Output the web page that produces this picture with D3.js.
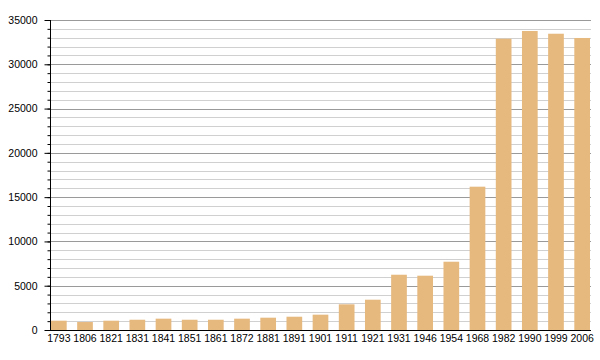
<!DOCTYPE html>
<html><head><meta charset="utf-8">
<script src="https://cdn.jsdelivr.net/npm/d3@7"></script>
<style>body{margin:0;background:#fff}svg{display:block}text{font-family:"Liberation Sans",Arial,sans-serif;font-size:10.5px;fill:#000}</style>
</head><body><svg id="c" width="600" height="360"></svg>
<script>
const years = ["1793","1806","1821","1831","1841","1851","1861","1872","1881","1891","1901","1911","1921","1931","1946","1954","1968","1982","1990","1999","2006"];
const population = [1050,900,1050,1160,1280,1160,1160,1280,1390,1500,1730,2900,3420,6240,6130,7710,16180,32890,33760,33450,32970];
const yTicks = [0,5000,10000,15000,20000,25000,30000,35000];

const svg = d3.select("#c");
const x0 = 50, x1 = 591, yTop = 20, yBot = 330;
const x = d3.scaleBand().domain(years).range([51, 590]).paddingInner(0.4).paddingOuter(0);
const y = d3.scaleLinear().domain([0, 35000]).range([yBot, yTop]);

// gridlines
const minor = d3.range(1000, 35001, 1000).filter(v => v % 5000 !== 0);
svg.append("g").selectAll("line").data(minor).join("line")
  .attr("x1", x0).attr("x2", x1).attr("y1", d => Math.round(y(d))+0.5).attr("y2", d => Math.round(y(d))+0.5)
  .attr("stroke", "#d0d0d0").attr("stroke-width", 1);
svg.append("g").selectAll("line").data(yTicks.filter(v => v > 0)).join("line")
  .attr("x1", x0).attr("x2", x1).attr("y1", d => Math.round(y(d))+0.5).attr("y2", d => Math.round(y(d))+0.5)
  .attr("stroke", "#9a9a9a").attr("stroke-width", 1);

// bars
svg.append("g").selectAll("rect").data(years).join("rect")
  .attr("x", (d) => x(d)).attr("width", x.bandwidth())
  .attr("y", (d, i) => y(population[i])).attr("height", (d, i) => yBot - y(population[i]))
  .attr("fill", "#e6b97f");

// y axis
const yAxisMinor = d3.axisLeft(y).tickValues(d3.range(0, 35001, 1000)).tickSize(3).tickFormat("");
svg.append("g").attr("transform", `translate(${x0+0.5},0)`).call(yAxisMinor)
  .call(g => g.select(".domain").remove());
const yAxis = d3.axisLeft(y).tickValues(yTicks).tickSize(6).tickPadding(7).tickFormat(d3.format("d"));
svg.append("g").attr("transform", `translate(${x0+0.5},0)`).call(yAxis)
  .call(g => g.select(".domain").attr("d", `M0,${yTop}V${yBot}`))
  .call(g => g.selectAll("text").style("font-size", "10.5px").attr("font-family", "Liberation Sans, Arial, sans-serif"));

// x axis
const xAxis = d3.axisBottom(x).tickSize(0).tickPadding(4);
svg.append("g").attr("transform", `translate(0,${yBot+0.5})`).call(xAxis)
  .call(g => g.select(".domain").attr("d", `M${x0},0H${x1}`))
  .call(g => g.selectAll("text").style("font-size", "10.5px").attr("font-family", "Liberation Sans, Arial, sans-serif"));
</script>
</body></html>
